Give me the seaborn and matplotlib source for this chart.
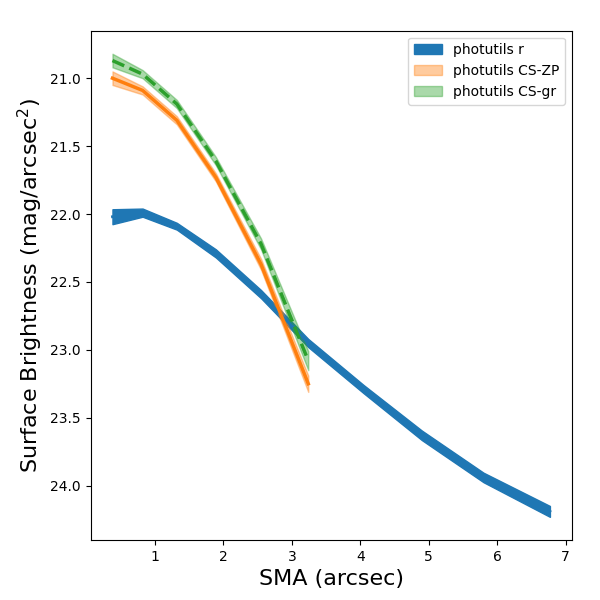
import numpy as np
import pandas as pd
import matplotlib
matplotlib.use("Agg")
import matplotlib.pyplot as plt
import seaborn as sns

# surface brightness profiles
sma_r = [0.38, 0.82, 1.32, 1.89, 2.55, 3.24, 4.05, 4.90, 5.80, 6.77]
mu_r = [22.02, 21.99, 22.09, 22.29, 22.59, 22.95, 23.29, 23.63, 23.94, 24.19]
err_r = [0.055, 0.03, 0.025, 0.03, 0.03, 0.03, 0.03, 0.035, 0.035, 0.04]

sma_cs = [0.38, 0.82, 1.32, 1.89, 2.55, 3.24]
mu_zp = [21.00, 21.09, 21.31, 21.73, 22.37, 23.25]
err_zp = [0.05, 0.03, 0.03, 0.03, 0.04, 0.06]
mu_gr = [20.87, 20.97, 21.19, 21.61, 22.22, 23.08]
err_gr = [0.05, 0.03, 0.03, 0.03, 0.04, 0.07]

df_r = pd.DataFrame({'sma': sma_r, 'mu': mu_r, 'err': err_r})
df_zp = pd.DataFrame({'sma': sma_cs, 'mu': mu_zp, 'err': err_zp})
df_gr = pd.DataFrame({'sma': sma_cs, 'mu': mu_gr, 'err': err_gr})

fig, ax = plt.subplots(figsize=(6, 6), dpi=100)

# photutils r
sns.lineplot(data=df_r, x='sma', y='mu', color='C0', lw=2, ax=ax)
ax.fill_between(df_r['sma'], df_r['mu'] - df_r['err'], df_r['mu'] + df_r['err'],
                color='C0', alpha=1, label='photutils r')

# photutils CS-ZP
sns.lineplot(data=df_zp, x='sma', y='mu', color='C1', lw=2.5, ax=ax)
ax.fill_between(df_zp['sma'], df_zp['mu'] - df_zp['err'], df_zp['mu'] + df_zp['err'],
                color='C1', alpha=0.4, label='photutils CS-ZP')

# photutils CS-gr
sns.lineplot(data=df_gr, x='sma', y='mu', color='C2', lw=2.5, ls='--', ax=ax)
ax.fill_between(df_gr['sma'], df_gr['mu'] - df_gr['err'], df_gr['mu'] + df_gr['err'],
                color='C2', alpha=0.4, label='photutils CS-gr')

ax.invert_yaxis()
ax.set_xlabel('SMA (arcsec)', fontsize=16)
ax.set_ylabel(r'Surface Brightness (mag/arcsec$^2$)', fontsize=16)
ax.legend(loc='upper right')

plt.subplots_adjust(left=0.151, right=0.953, top=0.949, bottom=0.1)
plt.savefig('out.png')
